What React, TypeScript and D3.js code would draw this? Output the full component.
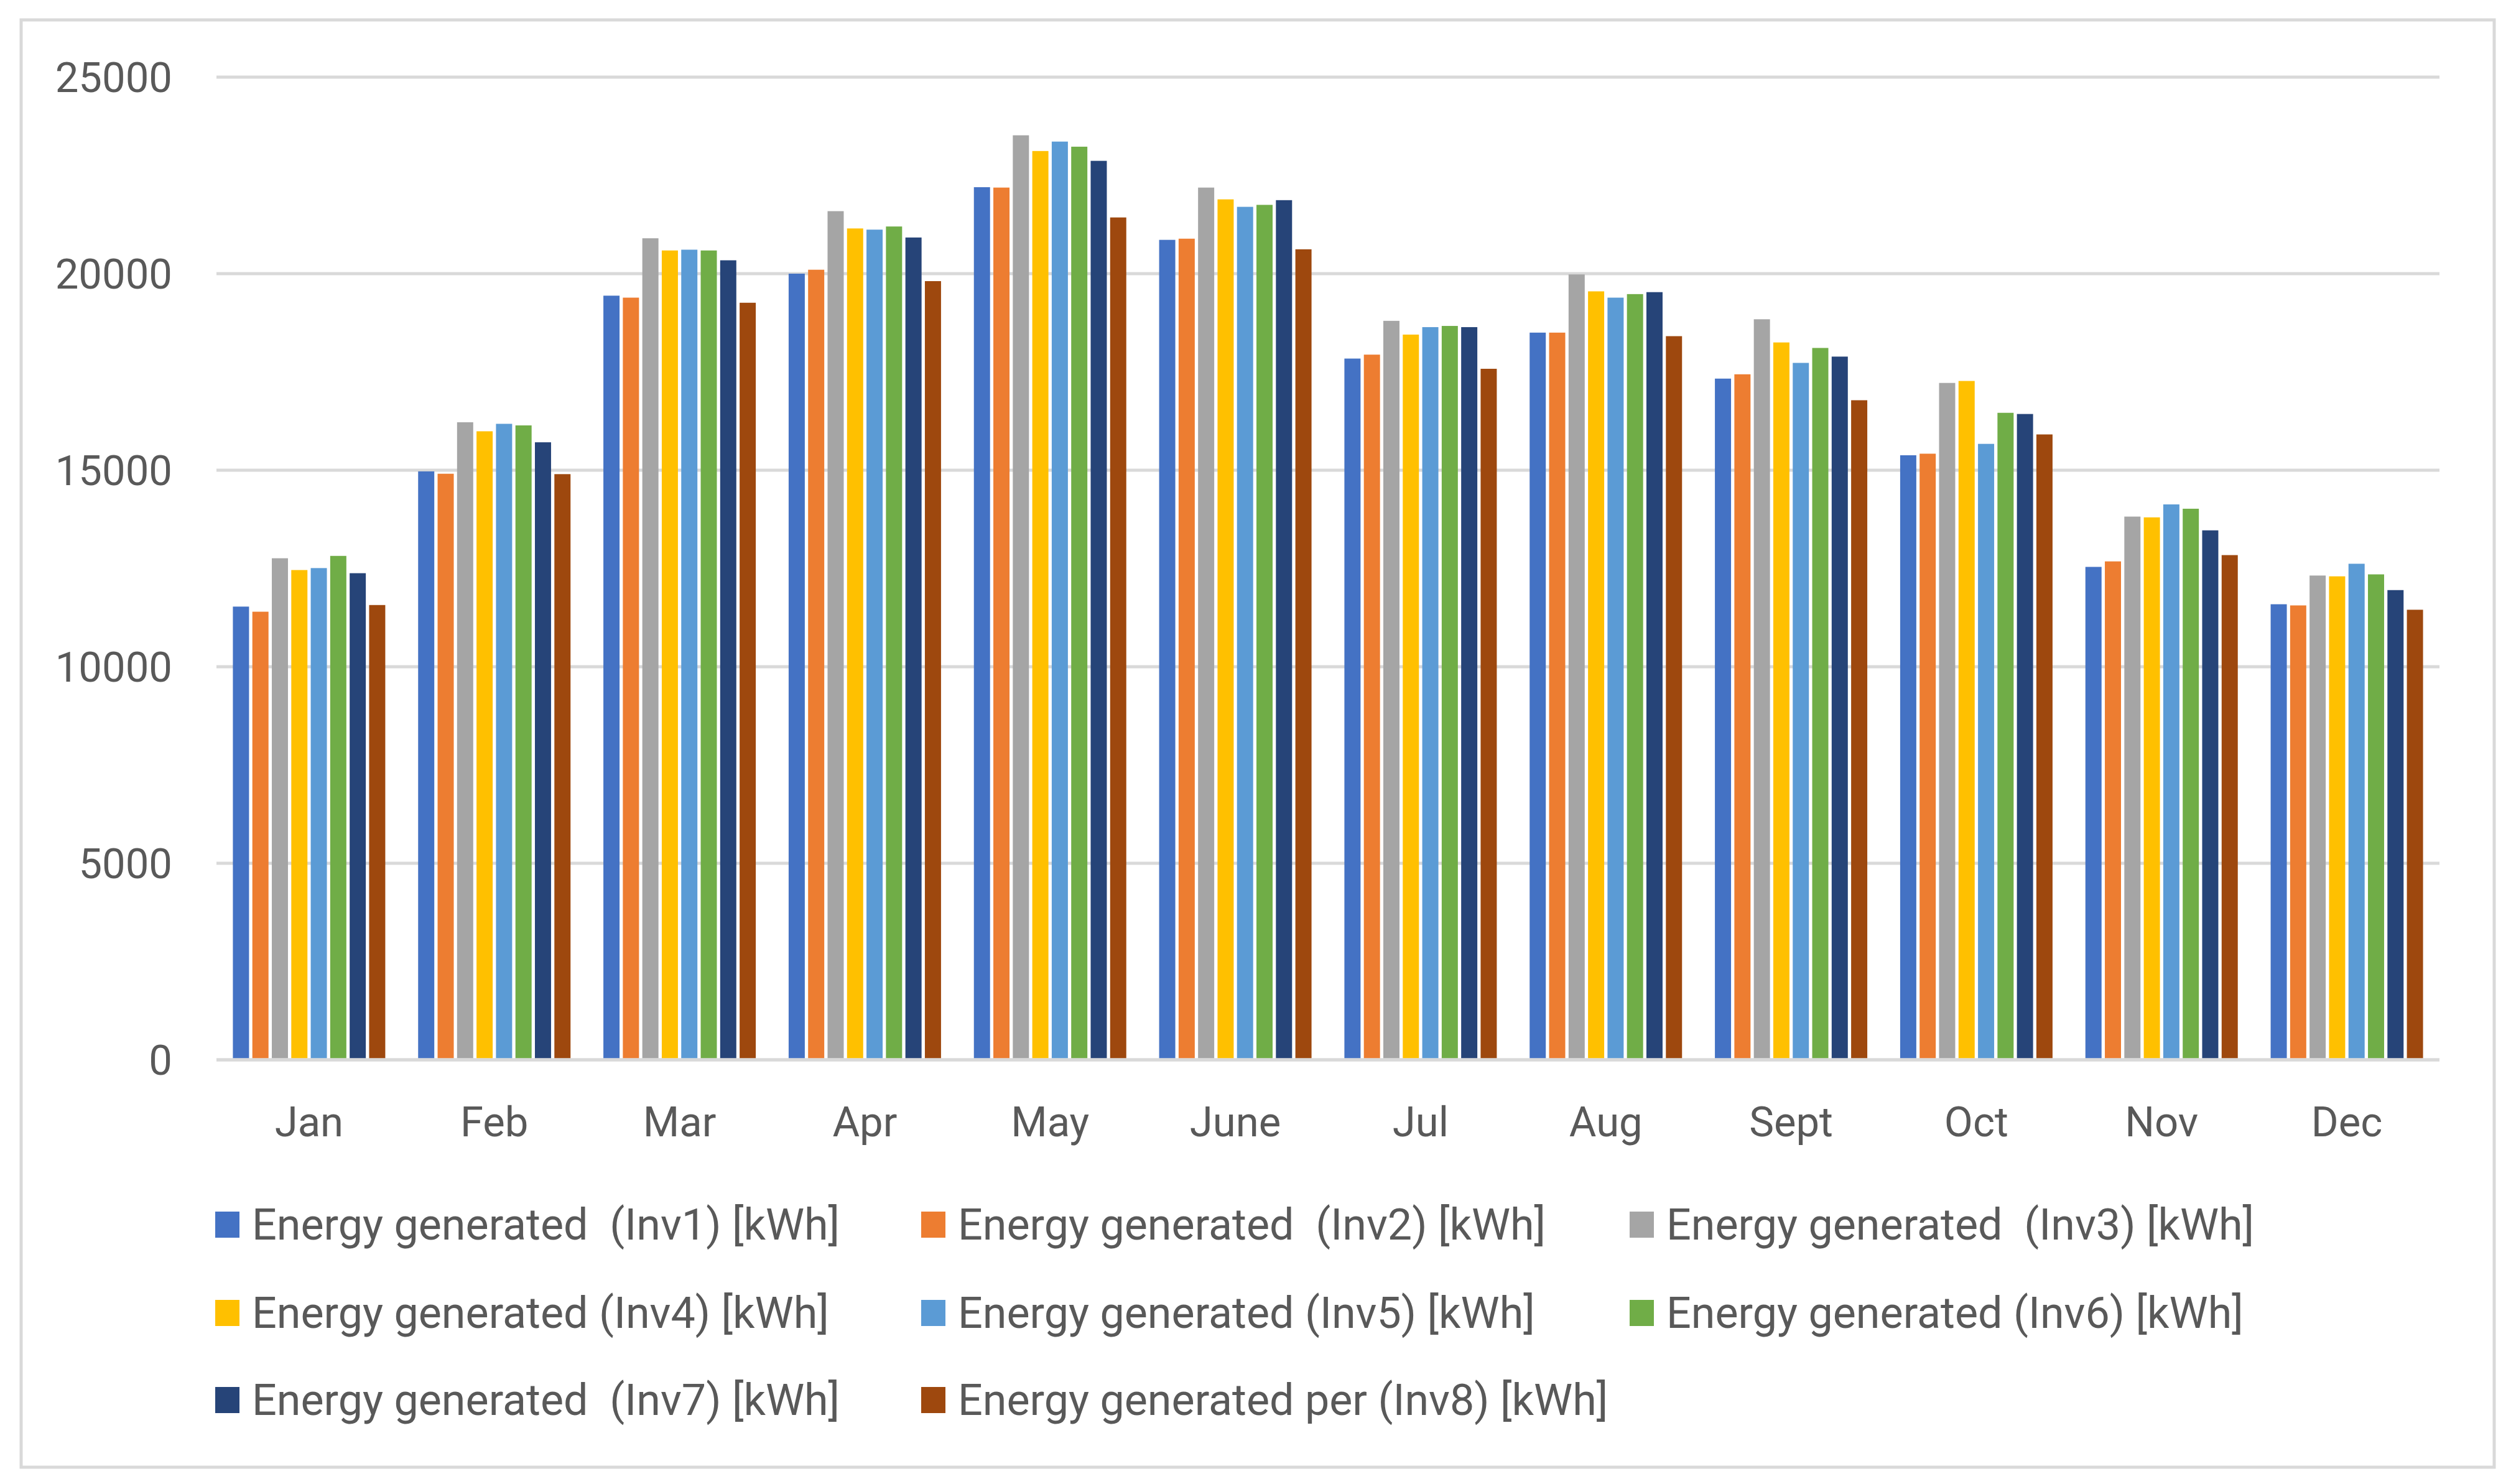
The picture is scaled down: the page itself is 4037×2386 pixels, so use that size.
import React from 'react';
import * as d3 from 'd3';

const months = ['Jan', 'Feb', 'Mar', 'Apr', 'May', 'June', 'Jul', 'Aug', 'Sept', 'Oct', 'Nov', 'Dec'];

const seriesLabels = [
  'Energy generated  (Inv1) [kWh]',
  'Energy generated  (Inv2) [kWh]',
  'Energy generated  (Inv3) [kWh]',
  'Energy generated (Inv4) [kWh]',
  'Energy generated (Inv5) [kWh]',
  'Energy generated (Inv6) [kWh]',
  'Energy generated  (Inv7) [kWh]',
  'Energy generated per (Inv8) [kWh]',
];

const seriesColors = ['#4472C4', '#ED7D31', '#A5A5A5', '#FFC000', '#5B9BD5', '#70AD47', '#264478', '#9E480E'];

const inv1 = [11530, 14970, 19440, 20000, 22200, 20860, 17840, 18500, 17330, 15380, 12540, 11590];
const inv2 = [11400, 14910, 19390, 20100, 22190, 20890, 17940, 18500, 17440, 15420, 12680, 11560];
const inv3 = [12760, 16220, 20900, 21590, 23520, 22190, 18800, 19980, 18840, 17220, 13820, 12320];
const inv4 = [12460, 15990, 20590, 21150, 23120, 21890, 18450, 19550, 18250, 17270, 13800, 12300];
const inv5 = [12510, 16180, 20610, 21120, 23360, 21700, 18640, 19390, 17730, 15670, 14130, 12620];
const inv6 = [12820, 16140, 20590, 21200, 23230, 21750, 18670, 19480, 18110, 16460, 14020, 12350];
const inv7 = [12380, 15710, 20340, 20920, 22870, 21870, 18640, 19530, 17890, 16430, 13470, 11950];
const inv8 = [11570, 14900, 19260, 19810, 21430, 20620, 17580, 18410, 16780, 15910, 12840, 11450];

const yTicks = [0, 5000, 10000, 15000, 20000, 25000];

const allSeries = [inv1, inv2, inv3, inv4, inv5, inv6, inv7, inv8];

const W = 4037;
const H = 2386;
const FONT = 'Roboto, "Noto Sans", sans-serif';
const TEXT = '#595959';
const GRID = '#D9D9D9';

export default function App() {
  const plot = { left: 348, right: 3922, top: 124, bottom: 1704 };

  const x0 = d3.scaleBand<string>().domain(months).range([plot.left, plot.right]).padding(0);
  const groupW = 245;
  const x1 = d3
    .scaleBand<number>()
    .domain(d3.range(allSeries.length))
    .range([0, groupW])
    .paddingInner(0.17)
    .paddingOuter(0);
  const y = d3.scaleLinear().domain([0, 25000]).range([plot.bottom, plot.top]);

  const groupOffset = (x0.bandwidth() - groupW) / 2;

  // legend layout: 3 columns, 3 rows
  const legendX = [346, 1481, 2620];
  const legendY = [1969, 2111, 2251];

  return (
    <div style={{ position: 'absolute', left: 0, top: 0 }}>
      <svg width={W} height={H} viewBox={`0 0 ${W} ${H}`} style={{ display: 'block', background: '#fff' }}>
        <rect x={0} y={0} width={W} height={H} fill="#fff" />
        <rect x={34} y={32} width={3976} height={2327} fill="none" stroke={GRID} strokeWidth={5} />

        {/* gridlines */}
        {yTicks.map((t) => (
          <line key={t} x1={plot.left} x2={plot.right} y1={y(t)} y2={y(t)} stroke={GRID} strokeWidth={5} />
        ))}

        {/* y tick labels */}
        {yTicks.map((t) => (
          <text
            key={'yl' + t}
            x={277}
            y={y(t) + 24}
            textAnchor="end"
            fontFamily={FONT}
            fontSize={67}
            fill={TEXT}
          >
            {t}
          </text>
        ))}

        {/* bars */}
        {months.map((m, mi) => (
          <g key={m} transform={`translate(${(x0(m) ?? 0) + groupOffset},0)`}>
            {allSeries.map((s, si) => (
              <rect
                key={si}
                x={x1(si)}
                y={y(s[mi])}
                width={x1.bandwidth()}
                height={y(0) - y(s[mi]) - 2.5}
                fill={seriesColors[si]}
              />
            ))}
          </g>
        ))}

        {/* zero line over bar bottoms */}
        <line x1={plot.left} x2={plot.right} y1={y(0)} y2={y(0)} stroke={GRID} strokeWidth={5} />

        {/* x labels */}
        {months.map((m) => (
          <text
            key={'xl' + m}
            x={(x0(m) ?? 0) + x0.bandwidth() / 2}
            y={1827}
            textAnchor="middle"
            fontFamily={FONT}
            fontSize={67}
            fill={TEXT}
          >
            {m}
          </text>
        ))}

        {/* legend */}
        {seriesLabels.map((label, i) => {
          const lx = legendX[i % 3];
          const ly = legendY[Math.floor(i / 3)];
          return (
            <g key={label} transform={`translate(${lx},${ly})`}>
              <rect x={0} y={-21} width={39} height={42} fill={seriesColors[i]} />
              <text
                x={59}
                y={24}
                fontFamily={FONT}
                fontSize={70}
                fill={TEXT}
                style={{ whiteSpace: 'pre' }}
              >
                {label}
              </text>
            </g>
          );
        })}
      </svg>
    </div>
  );
}
